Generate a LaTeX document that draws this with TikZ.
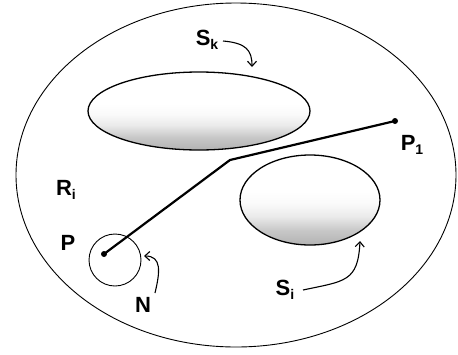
\documentclass[tikz,border=0pt]{standalone}
\usepackage{fontspec}
\setmainfont{Liberation Sans}
\usetikzlibrary{arrows.meta}
\pgfdeclareverticalshading{blobshade}{100bp}{color(0bp)=(black!30); color(25bp)=(black!30); color(33bp)=(black!22); color(41bp)=(black!8); color(48bp)=(black!2); color(55bp)=(white); color(100bp)=(white)}
\tikzset{
  lbl/.style={font=\bfseries\fontsize{22}{22}\selectfont, inner sep=0pt},
  blob/.style={draw=black, line width=1.3pt, shading=blobshade},
  pointer/.style={line width=1.1pt, -{Straight Barb[length=5pt,width=9pt]}},
  dot/.style={circle, fill=black, inner sep=0pt, minimum size=6pt}
}
\newcommand{\sbs}[1]{\raisebox{-0.35ex}{\fontsize{14}{14}\selectfont #1}}
\begin{document}
\begin{tikzpicture}[x=1pt,y=-1pt]
\useasboundingbox (0,0) rectangle (458,354);
% outer region
\draw[line width=0.9pt] (236,175) ellipse [x radius=220, y radius=172];
% obstacles
\shade[blob] (199,111) ellipse [x radius=111, y radius=39];
\shade[blob] (310,200) ellipse [x radius=70, y radius=45];
% neighbourhood circle
\draw[line width=0.9pt] (115,260) circle [radius=26];
% points and path
\node[dot] (p) at (104,254) {};
\coordinate (knee) at (230,160);
\node[dot] (p1) at (395,121) {};
\draw[line width=2.2pt] (p.center) -- (knee) -- (p1.center);
% labels
\node[lbl] (sk) at (207,40) {S\sbs{k}};
\node[lbl] (ri) at (66,190) {R\sbs{i}};
\node[lbl] (pl) at (68,243) {P};
\node[lbl] (p1l) at (412,145) {P\sbs{1}};
\node[lbl] (nl) at (143,305) {N};
\node[lbl] (sil) at (285,290) {S\sbs{i}};
% pointers
\coordinate (skA) at (223,41);
\coordinate (skT) at (252,67);
\draw[pointer] (skA) .. controls (246,43) and (252,50) .. (skT);
\coordinate (nA) at (155,293);
\coordinate (nT) at (144,256);
\draw[pointer] (nA) .. controls (160,272) and (162,256) .. (nT);
\coordinate (siA) at (303,290);
\coordinate (siT) at (360,241);
\draw[pointer] (siA) .. controls (345,281) and (358,282) .. (siT);
\end{tikzpicture}
\end{document}
